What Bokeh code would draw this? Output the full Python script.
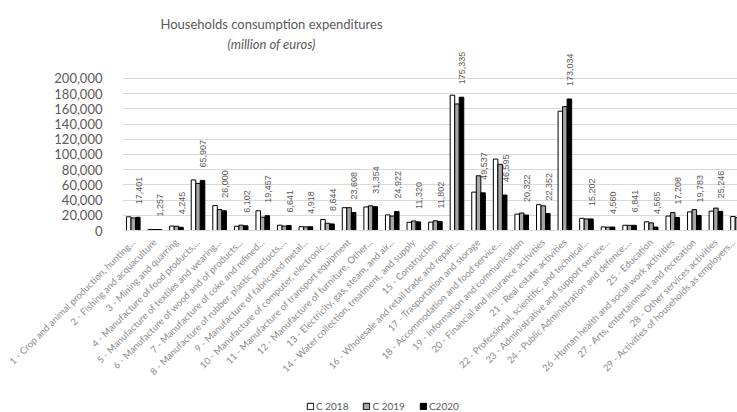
import math
from bokeh.plotting import figure
from bokeh.layouts import column
from bokeh.models import (ColumnDataSource, FixedTicker, NumeralTickFormatter,
                          Legend, LegendItem, Label)
from bokeh.transform import dodge
from bokeh.core.properties import value
from bokeh.embed import file_html
from bokeh.resources import INLINE

categories = [
    "1 - Crop and animal production, hunting...",
    "2 - Fishing and acquaculture",
    "3 - Mining and quarring",
    "4 - Manufacture of food products,...",
    "5 - Manufacture of textiles and wearing...",
    "6 - Manufacture of wood and of products...",
    "7 - Manufacture of coke and refined...",
    "8 - Manufacture of rubber, plastic products,...",
    "9 - Manufacture of fabricated metal...",
    "10 - Manufacture of computer, electronic...",
    "11 - Manufacture of transport equipment",
    "12 - Manufacture of furniture, Other...",
    "13 - Electricity, gas, steam, and air...",
    "14 - Water collection, treatment, and supply",
    "15 - Construction",
    "16 - Wholesale and retail trade and repair...",
    "17 - Trasportation and storage",
    "18 - Accommodation and food service...",
    "19 - Information and communication",
    "20 - Financial and insurance activities",
    "21 - Real estate activities",
    "22 - Professional, scientific, and technical...",
    "23 - Administrative and support service...",
    "24 - Public Administration and defence;...",
    "25 - Education",
    "26 -Human health and social work activities",
    "27 - Arts, entertainment and recreation",
    "28 - Other services activities",
    "29 - Activities of households as employers...",
]

NaN = float("nan")
c2018 = [18000, 1400, 5800, 66500, 32800, 5500, 26000, 7000, 5000, 14500,
         30000, 31000, 20500, 10800, 11000, 178000, 50500, 94000, 21500, 34000,
         157000, 16000, 4700, 6900, 11500, 19000, 24500, 25500, 18400]
c2019 = [16500, 1300, 5600, 62000, 27500, 7000, 17500, 5800, 4800, 9500,
         30000, 32500, 19000, 12500, 12800, 166500, 72000, 87000, 23000, 32500,
         163000, 15200, 4400, 6800, 10000, 23500, 27500, 29500, 17000]
# last value is cut off at the chart's right edge in the source image
c2020 = [17401, 1257, 4245, 65907, 26000, 6102, 19457, 6641, 4918, 8644,
         23608, 31354, 24922, 11320, 11802, 175335, 49537, 46595, 20322, 22352,
         173034, 15202, 4560, 6841, 4565, 17208, 19783, 25246, NaN]

series_names = ["C 2018", "C 2019", "C2020"]
y_ticks = [0, 20000, 40000, 60000, 80000, 100000, 120000, 140000, 160000, 180000, 200000]

xs = list(range(1, len(categories) + 1))
src = ColumnDataSource(dict(
    x=xs, c2018=c2018, c2019=c2019, c2020=c2020,
    lbl=["" if v != v else f"{v:,}" for v in c2020],
))

# ---------------- main chart ----------------
p = figure(width=737, height=397, output_backend="svg", toolbar_location=None,
           x_range=(0.5, 29.0), y_range=(0, 302630),
           min_border_left=122, min_border_right=0,
           min_border_top=0, min_border_bottom=167)
p.outline_line_color = None
p.background_fill_color = "white"
p.border_fill_color = "white"

p.xgrid.visible = False
p.ygrid.ticker = FixedTicker(ticks=y_ticks)
p.ygrid.grid_line_color = "#d9d9d9"
p.ygrid.grid_line_width = 1

yax = p.yaxis[0]
yax.ticker = FixedTicker(ticks=y_ticks)
yax.formatter = NumeralTickFormatter(format="0,0")
yax.axis_line_color = None
yax.major_tick_line_color = None
yax.minor_tick_line_color = None
yax.major_label_text_font = "Lato"
yax.major_label_text_font_size = "13px"
yax.major_label_text_color = "#595959"
yax.major_label_standoff = 14

xax = p.xaxis[0]
xax.ticker = FixedTicker(ticks=xs)
xax.major_label_overrides = {i: c for i, c in zip(xs, categories)}
xax.major_label_orientation = math.pi / 4
xax.major_label_text_font = "Lato"
xax.major_label_text_font_size = "9.5px"
xax.major_label_text_color = "#8c8c8c"
xax.axis_line_color = "#d9d9d9"
xax.major_tick_line_color = None
xax.minor_tick_line_color = None
xax.major_label_standoff = 4

bw = 0.21
styles = [dict(fill_color="white", line_color="black", line_width=1),
          dict(fill_color="#a6a6a6", line_color="black", line_width=1),
          dict(fill_color="black", line_color="black", line_width=1)]
cols = ["c2018", "c2019", "c2020"]
offsets = [-bw, 0, bw]

for c, o, st in zip(cols, offsets, styles):
    p.vbar(x=dodge("x", o, range=p.x_range), top=c, width=bw, source=src, **st)

p.text(x=dodge("x", 0.25, range=p.x_range), y="c2020", text="lbl", source=src,
       angle=math.pi / 2, text_align="left", text_baseline="middle", y_offset=-13,
       text_font=value("Liberation Sans"), text_font_size="9px", text_color="#595959")

p.add_layout(Label(x=149, y=207, x_units="screen", y_units="screen",
                   text="Households consumption expenditures",
                   text_align="center", text_baseline="middle",
                   text_font="Lato", text_font_size="13px",
                   text_color="#595959"))
p.add_layout(Label(x=149, y=187, x_units="screen", y_units="screen",
                   text="(million of euros)",
                   text_align="center", text_baseline="middle",
                   text_font="Lato", text_font_size="13px",
                   text_font_style="italic", text_color="#595959"))

# ---------------- legend strip ----------------
leg = figure(width=737, height=15, output_backend="svg", toolbar_location=None,
             x_range=(-10, -9), y_range=(-2, -1), min_border=0,
             x_axis_location=None, y_axis_location=None)
leg.outline_line_color = None
leg.xgrid.visible = False
leg.ygrid.visible = False
rs = [leg.vbar(x="x", top=c, width=bw, source=src, **st) for c, st in zip(cols, styles)]
legend = Legend(items=[LegendItem(label=n, renderers=[r]) for n, r in zip(series_names, rs)],
                orientation="horizontal", location=(184, 0),
                border_line_color=None, background_fill_alpha=0,
                padding=0, margin=0, spacing=14,
                glyph_width=8, glyph_height=8, label_height=10,
                label_standoff=2, label_text_font="Lato",
                label_text_font_size="10px", label_text_color="#595959")
leg.add_layout(legend)

layout = column(p, leg, spacing=0)
open("out.html", "w").write(file_html(layout, INLINE))
